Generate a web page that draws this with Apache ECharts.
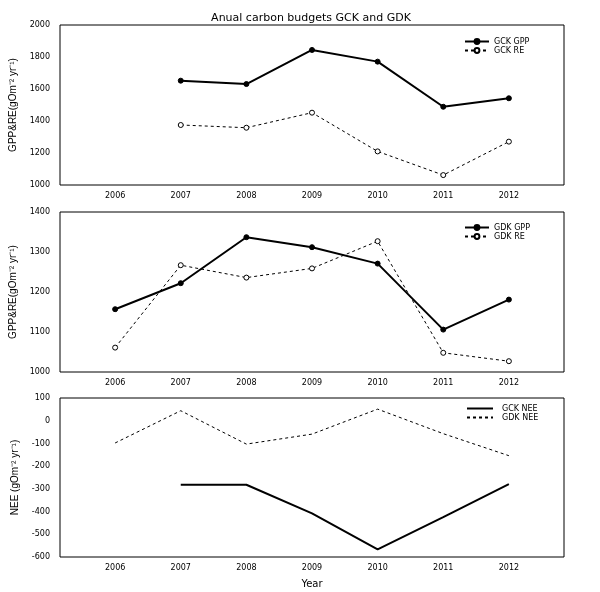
<!DOCTYPE html>
<html>
<head>
<meta charset="utf-8">
<script src="https://cdn.jsdelivr.net/npm/echarts@6/dist/echarts.min.js"></script>
<style>html,body{margin:0;padding:0;background:#fff;}#c{width:600px;height:592px;}</style>
</head>
<body>
<div id="c"></div>
<script>
var years = [2006, 2007, 2008, 2009, 2010, 2011, 2012];
var gckGpp = [null, 1652, 1631, 1844, 1771, 1489, 1542];
var gckRe  = [null, 1375, 1358, 1452, 1210, 1062, 1271];
var gdkGpp = [1157, 1222, 1337, 1312, 1271, 1106, 1181];
var gdkRe  = [1061, 1267, 1236, 1259, 1327, 1048, 1027];
var gckNee = [null, -282, -282, -408, -566, -424, -279];
var gdkNee = [-98, 44, -103, -59, 51, -57, -154];
var yTicks1 = [1000, 1200, 1400, 1600, 1800, 2000];
var yTicks2 = [1000, 1100, 1200, 1300, 1400];
var yTicks3 = [-600, -500, -400, -300, -200, -100, 0, 100];

function pairs(v) { return years.map(function (y, i) { return [y, v[i]]; }); }
function plain(v) { return String(v); }

var F = 'DejaVu Sans';
var tickFont = { fontFamily: F, fontSize: 8, color: '#000' };
var nameFont = { fontFamily: 'Liberation Sans', fontSize: 10, color: '#000' };
var grids = [
  { left: 60, top: 25, width: 504, height: 160 },
  { left: 60, top: 212, width: 504, height: 160 },
  { left: 60, top: 398, width: 504, height: 159 }
];
grids.forEach(function (g) { g.show = true; g.borderColor = '#000'; g.borderWidth = 1; g.backgroundColor = 'transparent'; });

function xAx(i, name) {
  var a = {
    type: 'value', gridIndex: i, min: 2005.16, max: 2012.84,
    axisLine: { show: false }, axisTick: { show: false }, splitLine: { show: false },
    axisLabel: Object.assign({ customValues: years, margin: 7, formatter: plain }, tickFont)
  };
  if (name) {
    a.name = name; a.nameLocation = 'middle'; a.nameGap = 22;
    a.nameTextStyle = { fontFamily: F, fontSize: 10, color: '#000' };
  }
  return a;
}
function yAx(i, ticks, interval, name, gap) {
  return {
    type: 'value', gridIndex: i, min: ticks[0], max: ticks[ticks.length - 1], interval: interval,
    axisLine: { show: false }, axisTick: { show: false }, splitLine: { show: false },
    axisLabel: Object.assign({ margin: 10, formatter: plain }, tickFont),
    name: name, nameLocation: 'middle', nameGap: gap, nameRotate: 90,
    nameTextStyle: nameFont
  };
}

var solid = { color: '#000', width: 2, type: 'solid' };
var dashed = { color: '#000', width: 1, type: [3, 3] };

function lineSeries(name, data, xi, style, marker) {
  var s = {
    type: 'line', name: name, xAxisIndex: xi, yAxisIndex: xi,
    data: pairs(data), lineStyle: style, itemStyle: { color: '#000' },
    connectNulls: false, animation: false
  };
  if (marker === 'filled') {
    s.symbol = 'circle'; s.symbolSize = 5; s.showSymbol = true;
    s.itemStyle = { color: '#000', borderColor: '#000', borderWidth: 1 };
  } else if (marker === 'hollow') {
    s.symbol = 'circle'; s.symbolSize = 5; s.showSymbol = true;
    s.itemStyle = { color: '#fff', borderColor: '#000', borderWidth: 1 };
  } else {
    s.symbol = 'none'; s.showSymbol = false;
  }
  return s;
}

function legend(top, left, names, iw, gapTxt, noMarker) {
  var data = names.map(function (n) {
    return noMarker ? { name: n, itemStyle: { color: 'transparent', borderColor: 'transparent', borderWidth: 0 } } : { name: n };
  });
  return {
    orient: 'vertical', top: top, left: left, itemGap: 0, itemWidth: iw, itemHeight: 6,
    data: data, textStyle: { fontFamily: F, fontSize: 8, lineHeight: 9, color: '#000', padding: [0, 0, 0, gapTxt] },
    selectedMode: false, padding: 0
  };
}

var option = {
  animation: false,
  backgroundColor: '#fff',
  title: {
    text: 'Anual carbon budgets GCK and GDK', left: 311, top: 13, textAlign: 'center', padding: 0,
    textStyle: { fontFamily: F, fontSize: 11, fontWeight: 'normal', color: '#000' }
  },
  grid: grids,
  xAxis: [xAx(0), xAx(1), xAx(2, 'Year')],
  yAxis: [
    yAx(0, yTicks1, 200, 'GPP&RE(gOm\u207B\u00B2 yr\u207B\u00B9)', 40),
    yAx(1, yTicks2, 100, 'GPP&RE(gOm\u207B\u00B2 yr\u207B\u00B9)', 40),
    yAx(2, yTicks3, 100, 'NEE (gOm\u207B\u00B2 yr\u207B\u00B9)', 40)
  ],
  legend: [
    legend(37, 464, ['GCK GPP', 'GCK RE'], 24, 0, false),
    legend(223, 464, ['GDK GPP', 'GDK RE'], 24, 0, false),
    legend(404, 466, ['GCK NEE', 'GDK NEE'], 26, 4, true)
  ],
  series: [
    lineSeries('GCK GPP', gckGpp, 0, solid, 'filled'),
    lineSeries('GCK RE', gckRe, 0, dashed, 'hollow'),
    lineSeries('GDK GPP', gdkGpp, 1, solid, 'filled'),
    lineSeries('GDK RE', gdkRe, 1, dashed, 'hollow'),
    lineSeries('GCK NEE', gckNee, 2, solid, null),
    lineSeries('GDK NEE', gdkNee, 2, dashed, null)
  ]
};
var chart = echarts.init(document.getElementById('c'), null, { renderer: 'canvas' });
chart.setOption(option);
</script>
</body>
</html>
